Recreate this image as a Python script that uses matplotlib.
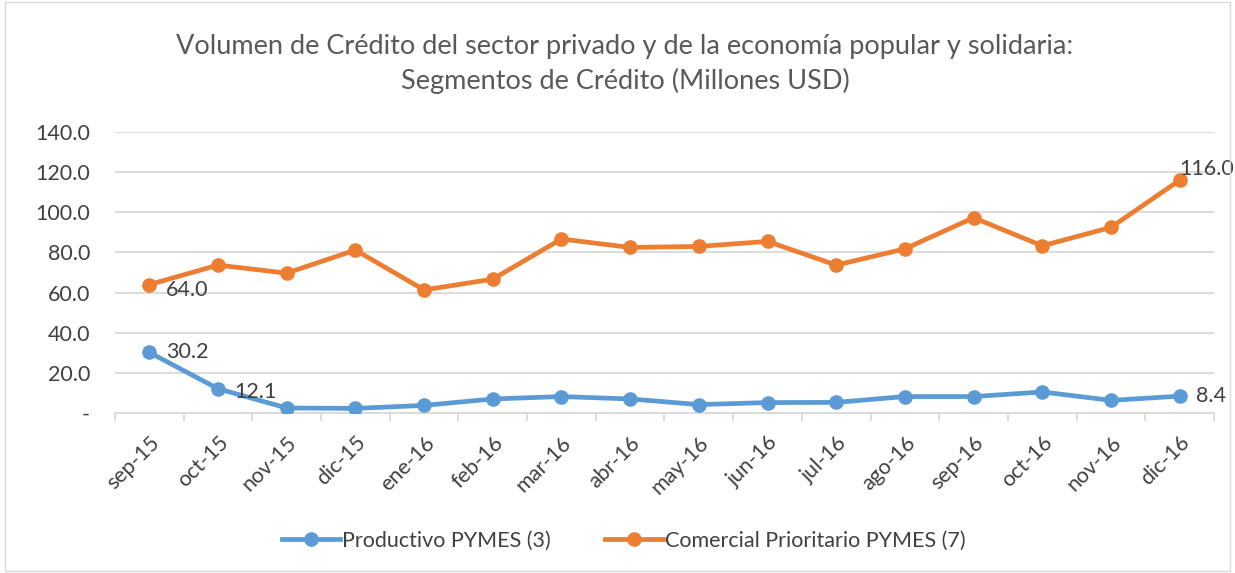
import matplotlib
matplotlib.use("Agg")
import matplotlib.pyplot as plt
from matplotlib.patches import Rectangle

months = ["sep-15", "oct-15", "nov-15", "dic-15", "ene-16", "feb-16", "mar-16", "abr-16",
          "may-16", "jun-16", "jul-16", "ago-16", "sep-16", "oct-16", "nov-16", "dic-16"]
productivo = [30.2, 12.1, 2.5, 2.3, 3.8, 7.0, 8.2, 7.0, 4.2, 5.2, 5.3, 8.2, 8.2, 10.5, 6.3, 8.4]
comercial = [64.0, 73.7, 69.7, 81.2, 61.3, 66.7, 86.7, 82.5, 83.0, 85.5, 73.7, 81.8, 97.3, 83.3, 92.5, 116.0]
y_ticks = [0, 20, 40, 60, 80, 100, 120, 140]
y_labels = ["-", "20.0", "40.0", "60.0", "80.0", "100.0", "120.0", "140.0"]

blue = "#5B9BD5"
orange = "#ED7D31"
text_col = "#404040"

plt.rcParams["font.family"] = ["Lato", "DejaVu Sans"]

fig = plt.figure(figsize=(12.35, 5.73), dpi=100)
ax = fig.add_axes([0.0931, 0.2792, 0.8899, 0.4904])

x = list(range(len(months)))
ax.plot(x, productivo, color=blue, lw=3.4, marker="o", ms=9.5, label="Productivo PYMES (3)", zorder=3)
ax.plot(x, comercial, color=orange, lw=3.4, marker="o", ms=9.5, label="Comercial Prioritario PYMES (7)", zorder=3)

ax.set_xlim(-0.5, len(months) - 0.5)
ax.set_ylim(0, 140)
ax.set_yticks(y_ticks)
ax.set_yticklabels(y_labels, fontsize=15.5, color=text_col)
ax.grid(axis="y", color="#D9D9D9", lw=1.3)
ax.set_axisbelow(True)
for s in ["top", "right", "left"]:
    ax.spines[s].set_visible(False)
ax.spines["bottom"].set_color("#D9D9D9")
ax.spines["bottom"].set_linewidth(1.3)
ax.tick_params(axis="y", length=0, pad=18)

ax.set_xticks(x)
ax.set_xticklabels(months, rotation=45, ha="right", rotation_mode="anchor", fontsize=15.5, color=text_col)
ax.set_xticks([i - 0.5 for i in range(len(months) + 1)], minor=True)
ax.tick_params(axis="x", which="major", length=0, pad=14)
ax.tick_params(axis="x", which="minor", length=6, color="#D9D9D9", width=1.3)

# data labels
lab = dict(textcoords="offset points", ha="left", va="center", fontsize=15.5, color=text_col)
ax.annotate("64.0", (0, comercial[0]), xytext=(12, -4), **lab)
ax.annotate("30.2", (0, productivo[0]), xytext=(12, 0), **lab)
ax.annotate("12.1", (1, productivo[1]), xytext=(12, -2), **lab)
ax.annotate("116.0", (15, comercial[15]), xytext=(0, 8), **lab)
ax.annotate("8.4", (15, productivo[15]), xytext=(12, 0), **lab)

fig.text(0.506, 0.918, "Volumen de Crédito del sector privado y de la economía popular y solidaria:",
         ha="center", va="center", fontsize=19.5, color="#595959")
fig.text(0.506, 0.858, "Segmentos de Crédito (Millones USD)",
         ha="center", va="center", fontsize=19.5, color="#595959")

leg = fig.legend(loc="center", bbox_to_anchor=(0.505, 1 - 541 / 573), ncol=2, frameon=False,
                 fontsize=15.5, handlelength=2.7, columnspacing=2.5, handletextpad=0.1)
for t in leg.get_texts():
    t.set_color(text_col)

fig.patches.append(Rectangle((0.004, 0.003), 0.992, 0.994, transform=fig.transFigure,
                             fill=False, edgecolor="#D9D9D9", lw=1))

fig.savefig("out.png", dpi=100)
